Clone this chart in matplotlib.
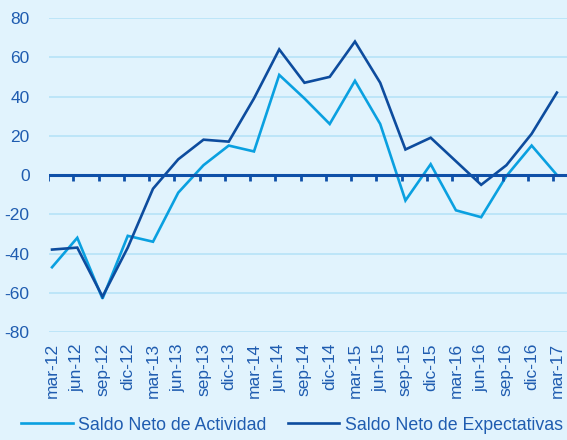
import numpy as np
import matplotlib
matplotlib.use("Agg")
import matplotlib.pyplot as plt
from matplotlib.lines import Line2D

bg_color = '#E1F3FD'
grid_color = '#BDE5F8'
text_color = '#1F5CB0'
light_blue = '#0AA0E0'
dark_blue = '#0D4C9E'

quarters = ['mar-12', 'jun-12', 'sep-12', 'dic-12', 'mar-13', 'jun-13', 'sep-13',
            'dic-13', 'mar-14', 'jun-14', 'sep-14', 'dic-14', 'mar-15', 'jun-15',
            'sep-15', 'dic-15', 'mar-16', 'jun-16', 'sep-16', 'dic-16', 'mar-17']

actividad = [-47, -32, -63, -31, -34, -9, 5, 15, 12, 51, 39, 26, 48, 26,
             -13, 5.5, -18, -21.5, -0.5, 15, 0]
expectativas = [-38, -37, -62, -37, -7, 8, 18, 17, 39, 64, 47, 50, 68, 47,
                13, 19, 7, -5, 5, 21, 42]

plt.rcParams['font.family'] = ['Liberation Sans', 'DejaVu Sans']
plt.rcParams['axes.unicode_minus'] = False

fig = plt.figure(figsize=(5.67, 4.40), dpi=100, facecolor=bg_color)
ax = fig.add_axes([49 / 567, 1 - 332 / 440, 1 - 49 / 567, 314 / 440])
ax.set_facecolor(bg_color)

x = np.arange(len(quarters))

# horizontal grid
for y in range(-80, 81, 20):
    if y != 0:
        ax.axhline(y, color=grid_color, lw=1.4, zorder=1)

ax.plot(x, actividad, color=light_blue, lw=1.9, zorder=3, solid_joinstyle='miter')
ax.plot(x, expectativas, color=dark_blue, lw=1.9, zorder=3, solid_joinstyle='miter')

# zero line with small tick marks
ax.axhline(0, color='#0F50A8', lw=2.2, zorder=4)
ax.plot(x - 0.15, np.zeros(len(x)), linestyle='none', marker=3, markersize=4,
        markeredgewidth=2, color='#0F50A8', zorder=4)

ax.set_xlim(-0.12, 20.4)
ax.set_ylim(-80, 80)
ax.set_yticks(range(-80, 81, 20))
ax.set_xticks(x)
ax.set_xticklabels(quarters, rotation=90)

for s in ax.spines.values():
    s.set_visible(False)
ax.tick_params(axis='both', length=0, labelsize=12.5, colors=text_color)
ax.tick_params(axis='x', pad=8)
ax.tick_params(axis='y', pad=14)

handles = [Line2D([], [], color=light_blue, lw=1.9),
           Line2D([], [], color=dark_blue, lw=1.9)]
fig.legend(handles, ['Saldo Neto de Actividad', 'Saldo Neto de Expectativas'],
           loc='center', bbox_to_anchor=(292 / 567, 15 / 440), ncol=2,
           frameon=False, fontsize=12.8, handlelength=2.9, handletextpad=0.3,
           columnspacing=1.2, labelcolor=text_color)

fig.savefig('out.png', dpi=100, facecolor=bg_color)
